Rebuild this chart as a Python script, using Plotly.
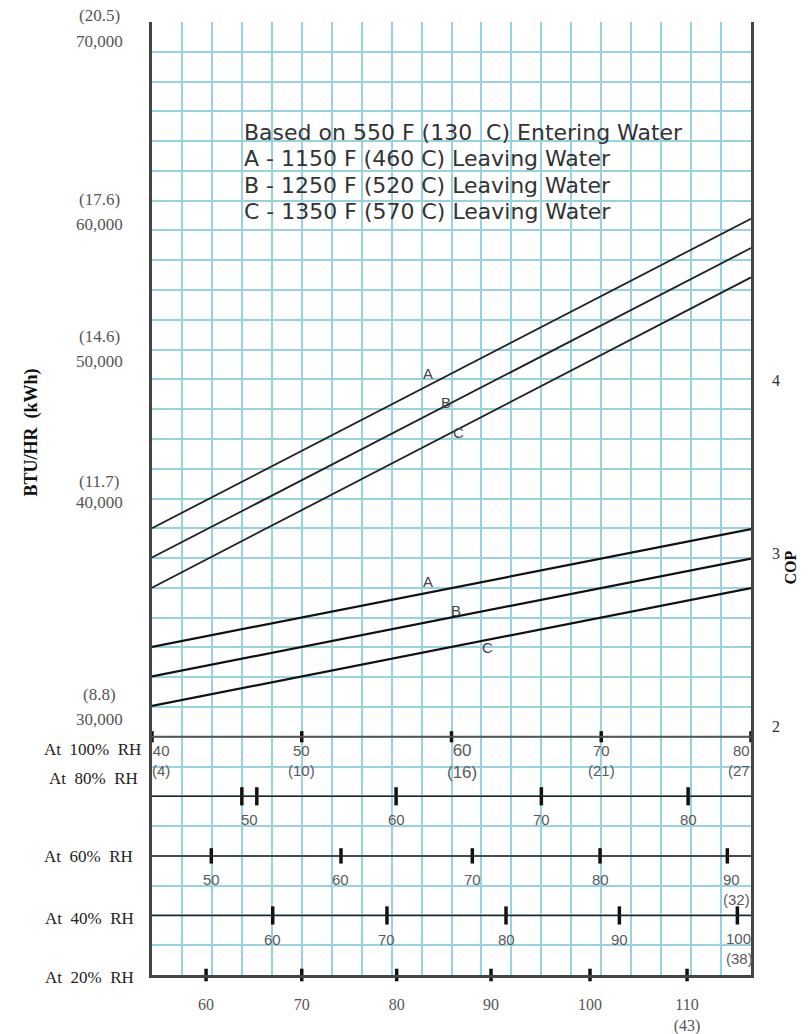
import plotly.graph_objects as go

# ---------------- data ----------------
# performance lines, x = temperature on the 100% RH scale (deg F)
line_temps = [40, 80]
btu_A = [39500, 58500]
btu_B = [37700, 56700]
btu_C = [35850, 54900]
cop_A = [2.46, 3.14]
cop_B = [2.29, 2.97]
cop_C = [2.12, 2.80]

# left axis labels
btu_labels = [70000, 60000, 50000, 40000, 30000]
kwh_labels = [20.5, 17.6, 14.6, 11.7, 8.8]
# right axis labels
cop_labels = [2, 3, 4]

# humidity scales: temperature (F) and its position on the 100% RH scale
rh100_f = [40, 50, 60, 70, 80]
rh100_c = [4, 10, 16, 21, 27]
rh100_pos = [40, 50, 60, 70, 80]

rh80_f = [50, 60, 70, 80]
rh80_pos = [46.5, 56.3, 66.0, 75.8]
rh80_marks = [46.0, 47.0, 56.3, 66.0, 75.8]

rh60_f = [50, 60, 70, 80, 90]
rh60_pos = [43.96, 52.62, 61.39, 69.92, 78.42]

rh40_f = [60, 70, 80, 90, 100]
rh40_pos = [48.06, 55.69, 63.64, 71.21, 79.09]

rh20_f = [60, 70, 80, 90, 100, 110]
rh20_pos = [43.61, 50.0, 56.34, 62.64, 69.25, 75.73]

# ---------------- layout helpers ----------------
W, H = 809, 1034
L, R, T, B = 152, 751, 22, 975  # plot frame in page pixels
GRID = "#96d2e0"
SERIF = "Liberation Serif, Times New Roman, serif"
SANS = "Liberation Sans, Arial, sans-serif"


def xp(px):
    return (px - L) / (R - L)


def yp(py):
    return (B - py) / (B - T)


fig = go.Figure()

# performance lines
for vals in (btu_A, btu_B, btu_C):
    fig.add_trace(go.Scatter(x=line_temps, y=vals, mode="lines", yaxis="y2",
                             line=dict(color="#222", width=1.8), hoverinfo="skip"))
for vals in (cop_A, cop_B, cop_C):
    fig.add_trace(go.Scatter(x=line_temps, y=vals, mode="lines", yaxis="y3",
                             line=dict(color="#111", width=2.2), hoverinfo="skip"))

# humidity scale rows (grid units)
rows = {"100": 8, "80": 6, "60": 4, "40": 2, "20": 0}


def marks(xs, row, size, xaxis="x"):
    fig.add_trace(go.Scatter(x=xs, y=[row] * len(xs), mode="markers", xaxis=xaxis, yaxis="y",
                             cliponaxis=False, hoverinfo="skip",
                             marker=dict(symbol="line-ns", size=size,
                                         line=dict(color="#111", width=3.5))))


marks(rh100_pos, rows["100"], 8)
marks(rh80_marks, rows["80"], 13)
marks(rh60_pos, rows["60"], 11)
marks(rh40_pos, rows["40"], 13)
marks(rh20_pos, rows["20"], 9, xaxis="x2")

shapes = []
shapes.append(dict(type="line", xref="paper", yref="y", x0=0, x1=1, y0=rows["100"], y1=rows["100"],
                   line=dict(color="#555", width=2)))
for k in ("80", "60", "40"):
    shapes.append(dict(type="line", xref="paper", yref="y", x0=0, x1=1, y0=rows[k], y1=rows[k],
                       line=dict(color="#222", width=1.5)))

ann = []

# left axis labels
kwh_py = [16, 200, 337, 481, 695]
btu_py = [42, 224, 361, 503, 719]
for v, k, py1, py2 in zip(btu_labels, kwh_labels, kwh_py, btu_py):
    ann.append(dict(text=f"({k})", x=xp(99), y=yp(py1), xref="paper", yref="paper",
                    showarrow=False, xanchor="center", yanchor="middle",
                    font=dict(family=SERIF, size=17, color="#555")))
    ann.append(dict(text=f"{v:,}", x=xp(99), y=yp(py2), xref="paper", yref="paper",
                    showarrow=False, xanchor="center", yanchor="middle",
                    font=dict(family=SERIF, size=17, color="#555")))

ann.append(dict(text="<b>BTU/HR\u00a0 (kWh)</b>", x=xp(19), y=yp(433), xref="paper", yref="paper",
                showarrow=False, textangle=-90, font=dict(family=SERIF, size=18, color="#111")))
ann.append(dict(text="<b>COP</b>", x=xp(800), y=yp(567), xref="paper", yref="paper",
                showarrow=False, textangle=-90, font=dict(family=SERIF, size=16, color="#111")))

# legend text
legend_lines = [
    "Based on 550 F (130\u00a0 C) Entering Water",
    "A - 1150 F (460 C) Leaving Water",
    "B - 1250 F (520 C) Leaving Water",
    "C - 1350 F (570 C) Leaving Water",
]
for txt, py in zip(legend_lines, [132, 158.5, 185.5, 212]):
    ann.append(dict(text=txt, x=xp(242), y=yp(py), xref="paper", yref="paper", showarrow=False,
                    xanchor="left", yanchor="middle",
                    font=dict(family="DejaVu Sans", size=22, color="#333")))

# curve labels
for txt, px, py in [("A", 428, 373), ("B", 446, 402), ("C", 458, 433),
                    ("A", 428, 581), ("B", 456, 611), ("C", 487, 658)]:
    ann.append(dict(text=txt, x=xp(px), y=yp(py), xref="paper", yref="paper", showarrow=False,
                    font=dict(family=SANS, size=15, color="#444")))

# row titles
for txt, px, py in [("At\u00a0\u00a0100%\u00a0 RH", 92, 750), ("At\u00a0\u00a080%\u00a0 RH", 93, 778),
                    ("At\u00a0\u00a060%\u00a0 RH", 88, 856), ("At\u00a0\u00a040%\u00a0 RH", 89, 918),
                    ("At\u00a0\u00a020%\u00a0 RH", 89, 977)]:
    ann.append(dict(text=txt, x=xp(px), y=yp(py), xref="paper", yref="paper", showarrow=False,
                    xanchor="center", yanchor="middle",
                    font=dict(family=SERIF, size=17, color="#222")))

SF = dict(family=SANS, size=15, color="#5a5a5a")

# 100% RH labels
for f, c, pos in zip(rh100_f, rh100_c, rh100_pos):
    font = dict(SF)
    if f == 60:
        font["size"] = 17
    if f == rh100_f[-1]:
        ann.append(dict(text=f"{f}<br>({c}", x=pos, y=rows["100"], xref="x", yref="y", showarrow=False,
                        xanchor="right", yanchor="top", align="right", yshift=-3, xshift=1, font=font))
    else:
        ann.append(dict(text=f"{f}<br>({c})", x=pos, y=rows["100"], xref="x", yref="y", showarrow=False,
                        xanchor="center", yanchor="top", yshift=-3 if f != 60 else -2,
                        xshift=10 if f == 60 else (9 if f == 40 else 0), font=font))

# 80 / 60 / 40 % labels
for f, pos in zip(rh80_f, rh80_pos):
    ann.append(dict(text=str(f), x=pos, y=rows["80"], xref="x", yref="y", showarrow=False,
                    xanchor="center", yanchor="middle", yshift=-23, font=SF))
for f, pos in zip(rh60_f, rh60_pos):
    if f == rh60_f[-1]:
        ann.append(dict(text=f"{f}<br>(32)", x=pos, y=rows["60"], xref="x", yref="y", showarrow=False,
                        xanchor="left", yanchor="top", align="left", xshift=-6, yshift=-13, font=SF))
    else:
        ann.append(dict(text=str(f), x=pos, y=rows["60"], xref="x", yref="y", showarrow=False,
                        xanchor="center", yanchor="middle", yshift=-24, font=SF))
for f, pos in zip(rh40_f, rh40_pos):
    if f == rh40_f[-1]:
        ann.append(dict(text=f"{f}<br>(38)", x=pos, y=rows["40"], xref="x", yref="y", showarrow=False,
                        xanchor="left", yanchor="top", align="left", xshift=-13, yshift=-13, font=SF))
    else:
        ann.append(dict(text=str(f), x=pos, y=rows["40"], xref="x", yref="y", showarrow=False,
                        xanchor="center", yanchor="middle", yshift=-24, font=SF))

rh20_text = [str(f) for f in rh20_f]
rh20_text[-1] = f"{rh20_f[-1]}<br>(43)"

fig.update_layout(
    width=W, height=H,
    margin=dict(l=L, r=W - R, t=T, b=H - B, pad=0, autoexpand=False),
    paper_bgcolor="white", plot_bgcolor="white", showlegend=False,
    xaxis=dict(range=[40, 80], tick0=40, dtick=2, showgrid=True, gridcolor=GRID, gridwidth=1.5,
               showticklabels=False, ticks="", zeroline=False, automargin=False,
               showline=True, linecolor="#444", linewidth=2.5, mirror=False),
    xaxis2=dict(range=[40, 80], overlaying="x", anchor="y", side="bottom", showgrid=False,
                zeroline=False, tickmode="array", tickvals=rh20_pos, ticktext=rh20_text,
                tickfont=dict(family=SERIF, size=16, color="#555"), ticks="", automargin=False,
                ticklabelstandoff=18, showline=False),
    yaxis=dict(range=[0, 32], tick0=0, dtick=1, showgrid=True, gridcolor=GRID, gridwidth=1.5,
               showticklabels=False, ticks="", zeroline=False, automargin=False,
               showline=True, linecolor="#444", linewidth=2.5, mirror=True),
    yaxis2=dict(range=[12075, 70577], overlaying="y", showgrid=False, zeroline=False,
                showticklabels=False, ticks="", automargin=False),
    yaxis3=dict(range=[0.567, 6.066], overlaying="y", side="right", anchor="x", showgrid=False,
                zeroline=False, tickmode="array", tickvals=cop_labels,
                ticktext=[str(c) for c in cop_labels], automargin=False,
                tickfont=dict(family=SERIF, size=16, color="#333"), ticks="",
                ticklabelstandoff=20, showline=False),
    shapes=shapes,
    annotations=ann,
)

fig.write_html("out.html", config={"displayModeBar": False},
               post_script="document.body.style.margin='0';document.body.style.overflow='hidden';")
